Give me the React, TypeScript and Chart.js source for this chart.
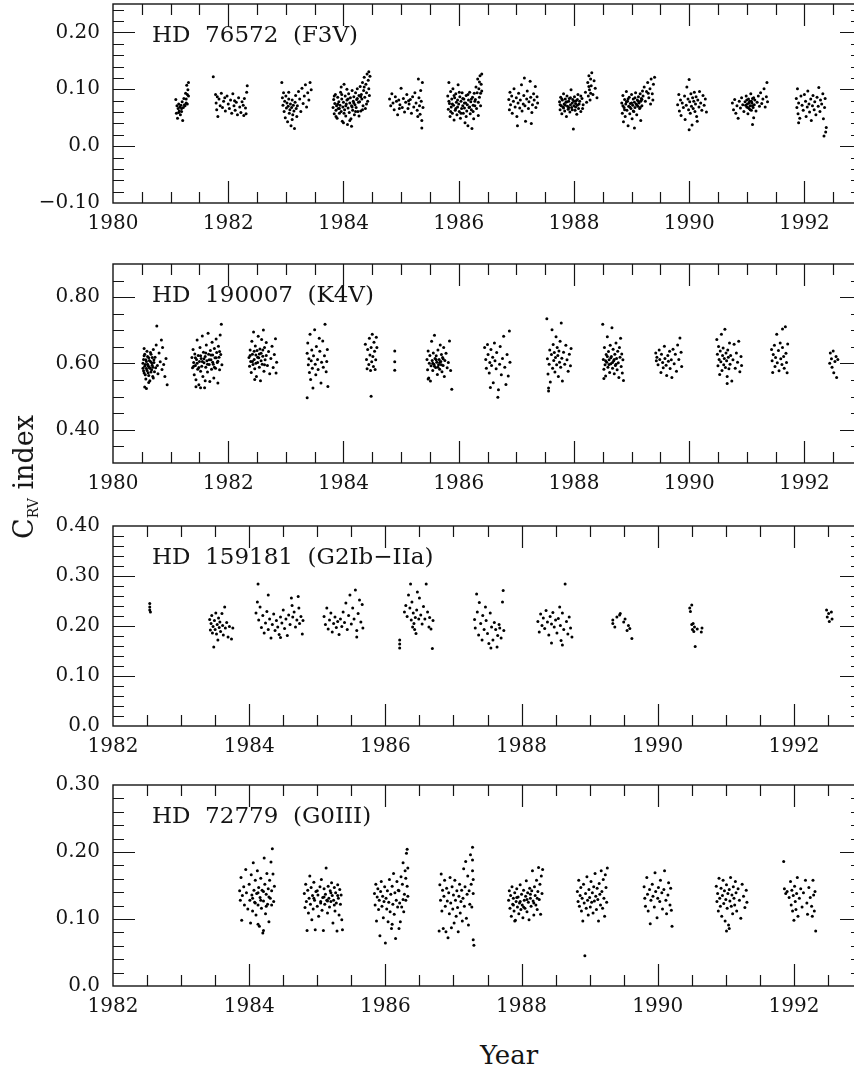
import React, { useEffect, useRef } from "react";
import { Chart, registerables } from "chart.js";

Chart.register(...registerables);

// ---------------- data (year, C_RV index) ----------------
const HD76572: [number, number][] = [
  [1981.09,0.082],[1981.10,0.058],[1981.11,0.071],[1981.12,0.049],[1981.13,0.066],[1981.14,0.074],[1981.15,0.062],[1981.16,0.069],[1981.17,0.055],[1981.18,0.072],[1981.19,0.061],[1981.20,0.078],[1981.21,0.045],[1981.22,0.068],[1981.23,0.084],[1981.24,0.073],[1981.25,0.071],[1981.26,0.093],[1981.27,0.083],[1981.28,0.107],[1981.29,0.074],[1981.30,0.099],[1981.31,0.088],[1981.31,0.112],[1981.29,0.091],[1981.27,0.076],[1981.19,0.066],[1981.14,0.059],
  [1981.74,0.122],[1981.78,0.091],[1981.79,0.076],[1981.80,0.064],[1981.81,0.087],[1981.82,0.052],[1981.84,0.083],[1981.86,0.071],[1981.88,0.093],[1981.90,0.068],[1981.92,0.079],[1981.95,0.062],[1981.98,0.088],[1982.00,0.074],[1982.02,0.066],[1982.04,0.081],[1982.06,0.058],[1982.08,0.092],[1982.10,0.071],[1982.12,0.063],[1982.14,0.077],[1982.16,0.055],[1982.18,0.085],[1982.20,0.069],[1982.22,0.059],[1982.24,0.078],[1982.26,0.072],[1982.28,0.084],[1982.30,0.067],[1982.32,0.095],[1982.33,0.106],[1982.31,0.057],[1982.27,0.054],[1981.94,0.085],[1982.11,0.080],
  [1982.93,0.112],[1982.94,0.085],[1982.95,0.072],[1982.96,0.094],[1982.97,0.061],[1982.98,0.079],[1982.99,0.050],[1983.00,0.088],[1983.01,0.067],[1983.02,0.076],[1983.03,0.043],[1983.04,0.070],[1983.05,0.083],[1983.06,0.058],[1983.07,0.064],[1983.08,0.074],[1983.09,0.036],[1983.10,0.068],[1983.11,0.081],[1983.12,0.055],[1983.13,0.072],[1983.14,0.062],[1983.15,0.031],[1983.16,0.077],[1983.17,0.089],[1983.18,0.066],[1983.19,0.052],[1983.20,0.071],[1983.22,0.096],[1983.24,0.083],[1983.26,0.061],[1983.28,0.102],[1983.30,0.075],[1983.32,0.088],[1983.34,0.108],[1983.36,0.069],[1983.38,0.094],[1983.40,0.081],[1983.42,0.112],[1983.44,0.099],[1983.05,0.095],[1983.11,0.047],
  [1983.82,0.068],[1983.83,0.082],[1983.84,0.057],[1983.85,0.075],[1983.86,0.091],[1983.87,0.063],[1983.88,0.071],[1983.89,0.049],[1983.90,0.086],[1983.91,0.066],[1983.92,0.078],[1983.93,0.058],[1983.94,0.072],[1983.95,0.095],[1983.96,0.061],[1983.97,0.083],[1983.98,0.044],[1983.99,0.069],[1984.00,0.077],[1984.01,0.109],[1984.02,0.064],[1984.03,0.088],[1984.04,0.053],[1984.05,0.074],[1984.06,0.081],[1984.07,0.038],[1984.08,0.067],[1984.09,0.092],[1984.10,0.059],[1984.11,0.076],[1984.12,0.085],[1984.13,0.048],[1984.14,0.071],[1984.15,0.098],[1984.16,0.063],[1984.17,0.079],[1984.18,0.087],[1984.19,0.055],[1984.20,0.073],[1984.21,0.094],[1984.22,0.068],[1984.23,0.082],[1984.24,0.101],[1984.25,0.061],[1984.26,0.077],[1984.27,0.089],
  [1984.28,0.078],[1984.29,0.105],[1984.30,0.062],[1984.31,0.091],[1984.32,0.083],[1984.33,0.112],[1984.34,0.071],[1984.35,0.098],[1984.36,0.121],[1984.37,0.086],[1984.38,0.066],[1984.39,0.109],[1984.40,0.094],[1984.41,0.127],[1984.42,0.079],[1984.43,0.116],[1984.44,0.101],[1984.45,0.089],[1984.46,0.123],[1984.44,0.131],[1984.40,0.074],[1984.36,0.104],
  [1984.00,0.041],[1984.14,0.035],[1984.06,0.100],[1983.96,0.104],
  [1983.84,0.088],[1983.87,0.052],[1983.90,0.074],[1983.93,0.066],[1983.97,0.091],[1984.01,0.058],[1984.04,0.071],[1984.08,0.083],[1984.11,0.045],[1984.15,0.069],[1984.18,0.076],[1984.21,0.061],[1984.24,0.084],[1984.27,0.053],[1984.30,0.087],[1984.33,0.064],
  [1984.80,0.083],[1984.82,0.071],[1984.84,0.092],[1984.86,0.076],[1984.88,0.064],[1984.90,0.087],[1984.92,0.079],[1984.94,0.055],[1984.96,0.081],[1984.98,0.073],[1985.00,0.102],[1985.02,0.068],[1985.04,0.084],[1985.06,0.060],[1985.08,0.077],[1985.10,0.091],[1985.12,0.066],[1985.14,0.074],[1985.16,0.082],[1985.18,0.058],[1985.20,0.087],[1985.22,0.069],[1985.24,0.094],[1985.26,0.076],[1985.28,0.063],[1985.30,0.118],[1985.31,0.085],[1985.32,0.071],[1985.33,0.056],[1985.34,0.098],[1985.35,0.079],[1985.36,0.045],[1985.37,0.112],[1985.38,0.068],[1985.36,0.032],[1985.29,0.052],[1985.13,0.080],[1984.97,0.066],
  [1985.81,0.088],[1985.82,0.065],[1985.83,0.112],[1985.84,0.075],[1985.85,0.052],[1985.86,0.096],[1985.87,0.069],[1985.88,0.083],[1985.89,0.058],[1985.90,0.101],[1985.91,0.072],[1985.92,0.046],[1985.93,0.085],[1985.94,0.063],[1985.95,0.092],[1985.96,0.077],[1985.97,0.055],[1985.98,0.069],[1985.99,0.108],[1986.00,0.074],[1986.01,0.061],[1986.02,0.087],[1986.03,0.049],[1986.04,0.079],[1986.05,0.066],[1986.06,0.094],[1986.07,0.071],[1986.08,0.058],[1986.09,0.083],[1986.10,0.067],[1986.11,0.041],[1986.12,0.076],[1986.13,0.089],[1986.14,0.062],[1986.15,0.073],[1986.16,0.036],[1986.17,0.081],[1986.18,0.068],[1986.19,0.095],[1986.20,0.057],[1986.21,0.078],[1986.22,0.064],[1986.23,0.031],[1986.24,0.086],[1986.25,0.072],[1986.26,0.048],[1986.27,0.093],[1986.28,0.079],
  [1986.29,0.082],[1986.30,0.104],[1986.31,0.066],[1986.32,0.094],[1986.33,0.118],[1986.34,0.077],[1986.35,0.101],[1986.36,0.086],[1986.37,0.124],[1986.38,0.093],[1986.39,0.109],[1986.40,0.127],[1986.38,0.071],[1986.34,0.054],[1986.36,0.113],[1986.40,0.097],
  [1985.83,0.079],[1985.86,0.061],[1985.89,0.074],[1985.92,0.089],[1985.95,0.066],[1985.98,0.081],[1986.01,0.095],[1986.04,0.058],[1986.07,0.084],[1986.10,0.076],[1986.13,0.052],[1986.16,0.091],[1986.19,0.069],[1986.22,0.083],[1986.25,0.061],[1986.28,0.071],
  [1986.87,0.082],[1986.88,0.064],[1986.89,0.095],[1986.90,0.073],[1986.92,0.088],[1986.93,0.058],[1986.95,0.079],[1986.96,0.101],[1986.98,0.069],[1987.00,0.085],[1987.01,0.052],[1987.03,0.076],[1987.04,0.093],[1987.06,0.067],[1987.07,0.081],[1987.09,0.108],[1987.10,0.062],[1987.12,0.074],[1987.13,0.089],[1987.15,0.071],[1987.16,0.044],[1987.18,0.083],[1987.19,0.097],[1987.21,0.066],[1987.22,0.078],[1987.24,0.114],[1987.25,0.086],[1987.27,0.059],[1987.28,0.073],[1987.30,0.092],[1987.31,0.081],[1987.33,0.105],[1987.34,0.068],[1987.36,0.087],[1987.37,0.076],[1987.02,0.036],[1987.14,0.120],[1987.26,0.040],
  [1987.75,0.078],[1987.76,0.064],[1987.77,0.086],[1987.78,0.071],[1987.79,0.057],[1987.80,0.081],[1987.81,0.069],[1987.82,0.092],[1987.83,0.074],[1987.84,0.062],[1987.85,0.083],[1987.86,0.077],[1987.87,0.052],[1987.88,0.088],[1987.89,0.070],[1987.90,0.065],[1987.91,0.079],[1987.92,0.084],[1987.93,0.060],[1987.94,0.073],[1987.95,0.099],[1987.96,0.068],[1987.97,0.076],[1987.98,0.082],[1987.99,0.030],[1988.00,0.071],[1988.01,0.087],[1988.02,0.063],[1988.03,0.075],[1988.04,0.080],[1988.05,0.056],[1988.06,0.072],[1988.07,0.091],[1988.08,0.066],[1988.10,0.079],[1988.12,0.061],[1988.14,0.084],[1988.16,0.073],
  [1988.20,0.095],[1988.22,0.077],[1988.24,0.112],[1988.25,0.088],[1988.26,0.124],[1988.27,0.099],[1988.28,0.081],[1988.29,0.118],[1988.30,0.106],[1988.31,0.129],[1988.33,0.091],[1988.35,0.115],[1988.37,0.102],[1988.40,0.085],[1988.29,0.093],[1988.26,0.105],
  [1987.76,0.073],[1987.79,0.083],[1987.82,0.067],[1987.85,0.072],[1987.88,0.078],[1987.91,0.068],[1987.94,0.085],[1987.97,0.064],[1988.00,0.079],[1988.03,0.069],[1988.06,0.082],[1988.09,0.074],[1988.12,0.088],[1988.15,0.066],
  [1988.83,0.076],[1988.84,0.058],[1988.85,0.089],[1988.86,0.043],[1988.87,0.068],[1988.88,0.082],[1988.89,0.052],[1988.90,0.074],[1988.91,0.096],[1988.92,0.063],[1988.93,0.079],[1988.94,0.036],[1988.95,0.070],[1988.96,0.086],[1988.97,0.057],[1988.98,0.075],[1988.99,0.066],[1989.00,0.091],[1989.01,0.048],[1989.02,0.072],[1989.03,0.083],[1989.04,0.061],[1989.05,0.077],[1989.06,0.068],[1989.07,0.094],[1989.08,0.074],[1989.09,0.055],[1989.10,0.081],[1989.11,0.070],[1989.12,0.087],[1989.13,0.076],[1989.14,0.066],[1989.15,0.092],[1989.16,0.079],[1989.17,0.084],[1989.18,0.071],[1989.19,0.097],
  [1989.20,0.088],[1989.22,0.104],[1989.24,0.079],[1989.26,0.096],[1989.28,0.112],[1989.30,0.085],[1989.32,0.101],[1989.34,0.118],[1989.36,0.092],[1989.38,0.109],[1989.40,0.121],[1989.37,0.081],[1989.33,0.074],[1989.29,0.093],[1989.05,0.032],[1989.16,0.045],
  [1988.85,0.071],[1988.88,0.064],[1988.91,0.078],[1988.94,0.083],[1988.97,0.069],[1989.00,0.076],[1989.03,0.062],[1989.06,0.085],[1989.09,0.073],[1989.12,0.079],[1989.15,0.068],[1989.18,0.082],
  [1989.80,0.073],[1989.82,0.091],[1989.83,0.062],[1989.85,0.081],[1989.86,0.054],[1989.88,0.076],[1989.90,0.068],[1989.92,0.088],[1989.93,0.047],[1989.95,0.072],[1989.96,0.104],[1989.98,0.083],[1989.99,0.064],[1990.00,0.117],[1990.01,0.078],[1990.02,0.058],[1990.03,0.092],[1990.04,0.070],[1990.05,0.037],[1990.06,0.085],[1990.07,0.066],[1990.08,0.079],[1990.09,0.095],[1990.10,0.061],[1990.11,0.074],[1990.12,0.087],[1990.13,0.052],[1990.15,0.081],[1990.17,0.069],[1990.18,0.096],[1990.20,0.076],[1990.22,0.063],[1990.24,0.089],[1990.26,0.072],[1990.28,0.083],[1990.30,0.060],[1990.00,0.029],[1990.14,0.044],
  [1990.75,0.076],[1990.77,0.064],[1990.79,0.082],[1990.81,0.058],[1990.83,0.071],[1990.85,0.049],[1990.87,0.079],[1990.89,0.067],[1990.91,0.085],[1990.93,0.073],[1990.95,0.061],[1990.97,0.078],[1990.99,0.088],[1991.00,0.069],[1991.01,0.074],[1991.02,0.057],[1991.03,0.083],[1991.04,0.066],[1991.05,0.079],[1991.06,0.071],[1991.07,0.092],[1991.08,0.063],[1991.09,0.076],[1991.10,0.084],[1991.11,0.068],[1991.12,0.050],[1991.13,0.073],[1991.14,0.081],[1991.16,0.062],[1991.18,0.077],[1991.20,0.088],[1991.22,0.070],[1991.24,0.094],[1991.26,0.075],[1991.28,0.083],[1991.30,0.101],[1991.32,0.069],[1991.34,0.087],[1991.35,0.112],[1991.36,0.078],[1991.10,0.038],
  [1990.98,0.072],[1991.00,0.081],[1991.02,0.068],[1991.04,0.076],[1991.06,0.064],[1991.08,0.079],[1991.10,0.071],[1991.12,0.085],
  [1991.86,0.084],[1991.87,0.068],[1991.88,0.101],[1991.89,0.057],[1991.90,0.076],[1991.92,0.049],[1991.94,0.088],[1991.96,0.072],[1991.98,0.063],[1992.00,0.091],[1992.02,0.079],[1992.03,0.052],[1992.05,0.069],[1992.06,0.097],[1992.08,0.074],[1992.09,0.060],[1992.11,0.083],[1992.12,0.045],[1992.14,0.071],[1992.15,0.089],[1992.17,0.064],[1992.18,0.078],[1992.20,0.055],[1992.22,0.086],[1992.24,0.070],[1992.25,0.103],[1992.27,0.061],[1992.28,0.081],[1992.30,0.074],[1992.32,0.092],[1992.33,0.048],[1992.35,0.068],[1992.36,0.084],[1992.37,0.025],[1992.38,0.033],[1992.34,0.018],[1991.90,0.041],
];

const HD190007: [number, number][] = [
  [1980.52,0.601],[1980.53,0.578],[1980.54,0.623],[1980.55,0.592],[1980.56,0.566],[1980.57,0.611],[1980.58,0.585],[1980.59,0.637],[1980.60,0.598],[1980.61,0.572],[1980.62,0.617],[1980.63,0.589],[1980.64,0.548],[1980.65,0.606],[1980.66,0.628],[1980.67,0.581],[1980.68,0.595],[1980.69,0.561],[1980.70,0.642],[1980.71,0.603],[1980.72,0.575],[1980.73,0.619],[1980.74,0.587],[1980.75,0.656],[1980.76,0.713],[1980.77,0.594],[1980.78,0.569],[1980.80,0.632],[1980.82,0.605],[1980.84,0.671],[1980.85,0.582],[1980.86,0.648],[1980.88,0.597],[1980.90,0.561],[1980.92,0.615],[1980.94,0.536],[1980.55,0.529],[1980.58,0.525],[1980.62,0.543],[1980.54,0.645],
  [1980.52,0.586],[1980.53,0.612],[1980.54,0.571],[1980.55,0.628],[1980.56,0.597],[1980.57,0.553],[1980.58,0.606],[1980.59,0.579],[1980.60,0.621],[1980.61,0.593],[1980.62,0.564],[1980.63,0.609],[1980.64,0.586],[1980.65,0.633],[1980.66,0.574],[1980.67,0.602],[1980.68,0.618],[1980.69,0.589],[1980.70,0.556],[1980.71,0.611],
  [1981.37,0.618],[1981.38,0.587],[1981.39,0.642],[1981.40,0.603],[1981.41,0.566],[1981.42,0.629],[1981.43,0.594],[1981.44,0.551],[1981.45,0.612],[1981.46,0.671],[1981.47,0.583],[1981.48,0.624],[1981.49,0.536],[1981.50,0.606],[1981.51,0.648],[1981.52,0.577],[1981.53,0.615],[1981.54,0.592],[1981.55,0.683],[1981.56,0.561],[1981.57,0.634],[1981.58,0.602],[1981.59,0.527],[1981.60,0.621],[1981.61,0.589],[1981.62,0.656],[1981.63,0.608],[1981.64,0.574],[1981.65,0.691],[1981.66,0.628],[1981.67,0.597],[1981.68,0.546],[1981.69,0.639],[1981.70,0.611],[1981.71,0.583],[1981.72,0.664],[1981.73,0.626],[1981.74,0.598],[1981.75,0.556],[1981.76,0.645],[1981.77,0.617],[1981.78,0.586],[1981.79,0.674],[1981.80,0.633],[1981.81,0.603],[1981.82,0.541],[1981.83,0.652],[1981.84,0.619],[1981.85,0.581],[1981.86,0.686],[1981.87,0.627],[1981.88,0.718],[1981.89,0.596],[1981.44,0.530],[1981.52,0.527],[1981.60,0.548],
  [1981.40,0.592],[1981.43,0.617],[1981.46,0.601],[1981.49,0.588],[1981.52,0.623],[1981.55,0.606],[1981.58,0.614],[1981.61,0.632],[1981.64,0.598],[1981.67,0.611],[1981.70,0.626],[1981.73,0.604],[1981.76,0.589],[1981.79,0.617],[1981.82,0.607],[1981.85,0.636],
  [1982.36,0.618],[1982.37,0.592],[1982.38,0.641],[1982.39,0.606],[1982.40,0.573],[1982.41,0.667],[1982.42,0.628],[1982.43,0.597],[1982.44,0.695],[1982.45,0.612],[1982.46,0.584],[1982.47,0.653],[1982.48,0.626],[1982.49,0.561],[1982.50,0.639],[1982.51,0.603],[1982.52,0.682],[1982.53,0.617],[1982.54,0.589],[1982.55,0.644],[1982.56,0.548],[1982.57,0.631],[1982.58,0.672],[1982.59,0.598],[1982.60,0.622],[1982.61,0.701],[1982.62,0.577],[1982.63,0.648],[1982.64,0.611],[1982.66,0.663],[1982.68,0.594],[1982.70,0.636],[1982.72,0.569],[1982.74,0.615],[1982.76,0.652],[1982.78,0.588],[1982.80,0.627],[1982.82,0.675],[1982.84,0.604],[1982.83,0.571],[1982.46,0.552],
  [1982.38,0.624],[1982.42,0.606],[1982.45,0.637],[1982.48,0.601],[1982.51,0.619],[1982.54,0.629],[1982.57,0.608],[1982.60,0.641],[1982.63,0.596],[1982.66,0.624],
  [1983.37,0.631],[1983.38,0.662],[1983.39,0.596],[1983.40,0.614],[1983.41,0.573],[1983.42,0.688],[1983.43,0.552],[1983.44,0.608],[1983.45,0.641],[1983.46,0.586],[1983.47,0.526],[1983.48,0.623],[1983.50,0.702],[1983.51,0.598],[1983.52,0.566],[1983.53,0.651],[1983.55,0.612],[1983.56,0.582],[1983.58,0.676],[1983.59,0.637],[1983.61,0.541],[1983.62,0.604],[1983.64,0.668],[1983.65,0.589],[1983.67,0.623],[1983.68,0.718],[1983.70,0.575],[1983.72,0.642],[1983.73,0.531],[1983.37,0.497],[1983.71,0.606],
  [1984.38,0.658],[1984.40,0.612],[1984.41,0.584],[1984.42,0.642],[1984.44,0.597],[1984.45,0.676],[1984.46,0.626],[1984.47,0.579],[1984.48,0.648],[1984.49,0.605],[1984.50,0.688],[1984.51,0.621],[1984.52,0.591],[1984.53,0.664],[1984.54,0.637],[1984.55,0.582],[1984.56,0.611],[1984.57,0.679],[1984.58,0.648],[1984.48,0.501],
  [1984.89,0.638],[1984.89,0.605],[1984.89,0.580],
  [1985.45,0.612],[1985.46,0.581],[1985.47,0.638],[1985.48,0.556],[1985.49,0.601],[1985.50,0.624],[1985.51,0.547],[1985.52,0.593],[1985.53,0.667],[1985.54,0.609],[1985.55,0.579],[1985.56,0.632],[1985.57,0.598],[1985.58,0.685],[1985.59,0.615],[1985.60,0.588],[1985.61,0.623],[1985.62,0.604],[1985.63,0.567],[1985.64,0.641],[1985.65,0.596],[1985.66,0.612],[1985.67,0.583],[1985.68,0.656],[1985.69,0.606],[1985.70,0.627],[1985.71,0.575],[1985.72,0.618],[1985.73,0.594],[1985.74,0.648],[1985.75,0.561],[1985.76,0.609],[1985.78,0.631],[1985.80,0.587],[1985.82,0.603],[1985.84,0.668],[1985.86,0.579],[1985.88,0.522],[1985.47,0.553],
  [1985.55,0.601],[1985.58,0.592],[1985.61,0.611],[1985.64,0.589],[1985.67,0.603],[1985.70,0.596],[1985.73,0.614],
  [1986.45,0.648],[1986.47,0.612],[1986.48,0.586],[1986.50,0.657],[1986.51,0.627],[1986.53,0.571],[1986.54,0.603],[1986.56,0.642],[1986.57,0.594],[1986.59,0.619],[1986.60,0.542],[1986.62,0.662],[1986.63,0.608],[1986.65,0.584],[1986.66,0.633],[1986.68,0.498],[1986.69,0.521],[1986.71,0.598],[1986.72,0.651],[1986.74,0.566],[1986.76,0.615],[1986.78,0.682],[1986.80,0.589],[1986.82,0.537],[1986.84,0.627],[1986.86,0.562],[1986.88,0.698],[1986.89,0.604],[1986.55,0.528],
  [1987.53,0.735],[1987.54,0.614],[1987.55,0.568],[1987.56,0.526],[1987.57,0.598],[1987.58,0.641],[1987.59,0.544],[1987.61,0.627],[1987.62,0.702],[1987.63,0.586],[1987.64,0.657],[1987.65,0.609],[1987.66,0.633],[1987.67,0.574],[1987.68,0.618],[1987.69,0.681],[1987.70,0.596],[1987.71,0.648],[1987.72,0.624],[1987.73,0.561],[1987.74,0.638],[1987.75,0.604],[1987.76,0.667],[1987.77,0.589],[1987.78,0.722],[1987.79,0.616],[1987.80,0.547],[1987.82,0.634],[1987.84,0.598],[1987.86,0.655],[1987.88,0.611],[1987.90,0.577],[1987.92,0.628],[1987.94,0.593],[1987.95,0.645],[1987.56,0.517],
  [1988.50,0.718],[1988.51,0.612],[1988.52,0.583],[1988.53,0.648],[1988.54,0.596],[1988.55,0.562],[1988.56,0.627],[1988.57,0.604],[1988.58,0.681],[1988.59,0.589],[1988.60,0.636],[1988.61,0.611],[1988.62,0.573],[1988.63,0.655],[1988.64,0.599],[1988.65,0.621],[1988.66,0.708],[1988.67,0.586],[1988.68,0.643],[1988.69,0.608],[1988.70,0.569],[1988.71,0.628],[1988.72,0.594],[1988.73,0.662],[1988.74,0.615],[1988.75,0.581],[1988.76,0.637],[1988.77,0.602],[1988.78,0.558],[1988.79,0.648],[1988.80,0.619],[1988.81,0.676],[1988.82,0.591],[1988.83,0.629],[1988.84,0.571],[1988.85,0.611],[1988.86,0.549],[1988.52,0.555],
  [1988.55,0.608],[1988.58,0.621],[1988.61,0.597],[1988.64,0.617],[1988.67,0.603],[1988.70,0.612],[1988.73,0.598],
  [1989.42,0.632],[1989.43,0.608],[1989.44,0.619],[1989.46,0.596],[1989.48,0.641],[1989.49,0.612],[1989.51,0.573],[1989.52,0.628],[1989.54,0.603],[1989.55,0.587],[1989.57,0.652],[1989.58,0.615],[1989.60,0.595],[1989.61,0.564],[1989.63,0.624],[1989.64,0.607],[1989.66,0.637],[1989.67,0.585],[1989.69,0.611],[1989.70,0.558],[1989.72,0.643],[1989.74,0.599],[1989.76,0.628],[1989.78,0.577],[1989.80,0.656],[1989.82,0.612],[1989.84,0.677],[1989.86,0.634],[1989.87,0.591],
  [1990.48,0.672],[1990.49,0.628],[1990.50,0.593],[1990.51,0.651],[1990.52,0.612],[1990.53,0.567],[1990.54,0.638],[1990.55,0.605],[1990.56,0.688],[1990.57,0.579],[1990.58,0.624],[1990.59,0.647],[1990.60,0.596],[1990.61,0.615],[1990.62,0.703],[1990.63,0.588],[1990.64,0.632],[1990.65,0.608],[1990.66,0.561],[1990.67,0.641],[1990.68,0.619],[1990.69,0.584],[1990.70,0.662],[1990.71,0.598],[1990.72,0.624],[1990.74,0.547],[1990.76,0.611],[1990.78,0.658],[1990.80,0.586],[1990.82,0.632],[1990.84,0.604],[1990.86,0.667],[1990.88,0.575],[1990.90,0.621],[1990.91,0.594],[1990.66,0.540],
  [1991.43,0.642],[1991.44,0.608],[1991.45,0.573],[1991.46,0.627],[1991.48,0.655],[1991.49,0.591],[1991.50,0.618],[1991.52,0.688],[1991.53,0.602],[1991.55,0.639],[1991.56,0.578],[1991.58,0.662],[1991.59,0.614],[1991.61,0.597],[1991.62,0.648],[1991.64,0.621],[1991.65,0.586],[1991.67,0.711],[1991.68,0.631],[1991.69,0.603],[1991.70,0.572],[1991.71,0.659],[1991.62,0.704],
  [1992.44,0.601],[1992.45,0.632],[1992.47,0.614],[1992.48,0.589],[1992.50,0.638],[1992.51,0.572],[1992.53,0.606],[1992.55,0.621],[1992.56,0.558],[1992.58,0.612],
];

const HD159181: [number, number][] = [
  [1982.54,0.245],[1982.54,0.238],[1982.54,0.232],[1982.55,0.228],
  [1983.42,0.213],[1983.43,0.192],[1983.44,0.205],[1983.45,0.221],[1983.46,0.186],[1983.47,0.199],[1983.48,0.158],[1983.49,0.211],[1983.50,0.193],[1983.51,0.226],[1983.52,0.184],[1983.53,0.203],[1983.54,0.172],[1983.55,0.216],[1983.56,0.197],[1983.57,0.208],[1983.58,0.189],[1983.60,0.225],[1983.61,0.201],[1983.62,0.182],[1983.64,0.238],[1983.65,0.196],[1983.67,0.207],[1983.69,0.178],[1983.71,0.199],[1983.74,0.174],[1983.76,0.196],
  [1984.10,0.226],[1984.12,0.248],[1984.13,0.284],[1984.14,0.212],[1984.16,0.238],[1984.18,0.197],[1984.20,0.221],[1984.22,0.186],[1984.24,0.206],[1984.26,0.229],[1984.28,0.193],[1984.30,0.214],[1984.32,0.176],[1984.34,0.203],[1984.36,0.224],[1984.38,0.191],[1984.40,0.211],[1984.42,0.198],[1984.44,0.183],[1984.46,0.218],[1984.48,0.206],[1984.50,0.232],[1984.52,0.195],[1984.54,0.214],[1984.56,0.181],[1984.58,0.222],[1984.60,0.203],[1984.62,0.256],[1984.63,0.241],[1984.64,0.218],[1984.66,0.228],[1984.68,0.198],[1984.70,0.212],[1984.72,0.259],[1984.73,0.236],[1984.74,0.205],[1984.76,0.219],[1984.78,0.184],[1984.79,0.211],[1984.46,0.177],[1984.28,0.262],
  [1985.10,0.219],[1985.12,0.203],[1985.14,0.236],[1985.16,0.194],[1985.18,0.212],[1985.20,0.226],[1985.22,0.188],[1985.24,0.205],[1985.26,0.218],[1985.28,0.197],[1985.30,0.209],[1985.32,0.183],[1985.34,0.214],[1985.36,0.199],[1985.38,0.228],[1985.40,0.207],[1985.42,0.246],[1985.44,0.193],[1985.46,0.221],[1985.48,0.262],[1985.50,0.204],[1985.52,0.236],[1985.54,0.214],[1985.56,0.272],[1985.58,0.191],[1985.60,0.225],[1985.62,0.252],[1985.64,0.208],[1985.66,0.243],[1985.67,0.196],[1985.58,0.178],
  [1986.21,0.172],[1986.21,0.164],[1986.21,0.156],[1986.28,0.228],[1986.30,0.241],[1986.32,0.219],[1986.34,0.262],[1986.36,0.236],[1986.37,0.284],[1986.38,0.212],[1986.39,0.248],[1986.40,0.198],[1986.41,0.226],[1986.42,0.205],[1986.43,0.193],[1986.44,0.217],[1986.45,0.185],[1986.46,0.232],[1986.47,0.268],[1986.49,0.214],[1986.50,0.256],[1986.52,0.222],[1986.54,0.204],[1986.56,0.239],[1986.58,0.214],[1986.60,0.284],[1986.62,0.228],[1986.64,0.198],[1986.65,0.217],[1986.67,0.194],[1986.69,0.155],[1986.70,0.211],
  [1987.31,0.213],[1987.32,0.196],[1987.34,0.264],[1987.35,0.228],[1987.37,0.182],[1987.38,0.247],[1987.40,0.205],[1987.42,0.172],[1987.43,0.221],[1987.45,0.193],[1987.47,0.238],[1987.48,0.211],[1987.50,0.185],[1987.52,0.165],[1987.54,0.226],[1987.56,0.198],[1987.58,0.172],[1987.60,0.207],[1987.62,0.193],[1987.64,0.158],[1987.65,0.181],[1987.67,0.203],[1987.68,0.196],[1987.70,0.176],[1987.72,0.248],[1987.73,0.271],[1987.74,0.191],[1987.55,0.156],
  [1988.24,0.209],[1988.26,0.188],[1988.28,0.224],[1988.30,0.201],[1988.32,0.216],[1988.34,0.195],[1988.36,0.231],[1988.38,0.208],[1988.40,0.182],[1988.42,0.219],[1988.44,0.204],[1988.46,0.227],[1988.48,0.198],[1988.50,0.212],[1988.52,0.186],[1988.54,0.215],[1988.56,0.238],[1988.57,0.201],[1988.58,0.171],[1988.60,0.226],[1988.62,0.193],[1988.64,0.284],[1988.66,0.209],[1988.68,0.184],[1988.70,0.218],[1988.72,0.196],[1988.74,0.178],[1988.60,0.162],[1988.44,0.166],
  [1989.34,0.212],[1989.34,0.205],[1989.37,0.198],[1989.40,0.218],[1989.44,0.222],[1989.45,0.225],[1989.50,0.208],[1989.52,0.214],[1989.55,0.191],[1989.57,0.201],[1989.59,0.195],[1989.62,0.175],
  [1990.47,0.236],[1990.48,0.229],[1990.50,0.242],[1990.50,0.203],[1990.51,0.193],[1990.52,0.205],[1990.53,0.189],[1990.54,0.198],[1990.55,0.159],[1990.58,0.194],[1990.64,0.188],[1990.65,0.196],
  [1992.48,0.232],[1992.49,0.218],[1992.51,0.225],[1992.52,0.209],[1992.55,0.228],[1992.56,0.214],
];

const HD72779: [number, number][] = [
  [1983.86,0.142],[1983.87,0.128],[1983.88,0.162],[1983.89,0.098],[1983.90,0.135],[1983.92,0.148],[1983.93,0.121],[1983.95,0.174],[1983.96,0.139],[1983.98,0.115],[1984.00,0.152],[1984.01,0.128],[1984.02,0.094],[1984.03,0.166],[1984.04,0.136],[1984.05,0.112],[1984.06,0.184],[1984.07,0.143],[1984.08,0.125],[1984.09,0.158],[1984.10,0.106],[1984.11,0.138],[1984.12,0.172],[1984.13,0.121],[1984.14,0.147],[1984.15,0.089],[1984.16,0.132],[1984.17,0.161],[1984.18,0.116],[1984.19,0.143],[1984.20,0.079],[1984.21,0.127],[1984.22,0.191],[1984.23,0.152],[1984.24,0.108],[1984.25,0.137],[1984.26,0.168],[1984.27,0.122],[1984.28,0.145],[1984.29,0.096],[1984.30,0.158],[1984.31,0.131],[1984.32,0.185],[1984.33,0.142],[1984.34,0.205],[1984.35,0.167],[1984.36,0.126],[1984.37,0.149],[1984.21,0.083],[1984.13,0.092],
  [1984.05,0.131],[1984.09,0.124],[1984.13,0.139],[1984.17,0.128],[1984.21,0.141],[1984.25,0.119],[1984.29,0.133],[1984.33,0.121],
  [1984.81,0.138],[1984.82,0.117],[1984.83,0.152],[1984.84,0.126],[1984.85,0.083],[1984.86,0.143],[1984.87,0.109],[1984.88,0.131],[1984.89,0.164],[1984.90,0.122],[1984.91,0.147],[1984.92,0.099],[1984.93,0.135],[1984.94,0.115],[1984.95,0.155],[1984.96,0.128],[1984.97,0.084],[1984.98,0.141],[1985.00,0.119],[1985.01,0.136],[1985.02,0.104],[1985.04,0.148],[1985.05,0.126],[1985.06,0.159],[1985.07,0.113],[1985.08,0.132],[1985.09,0.083],[1985.10,0.145],[1985.11,0.122],[1985.12,0.137],[1985.13,0.176],[1985.14,0.128],[1985.15,0.109],[1985.16,0.149],[1985.17,0.131],[1985.18,0.118],[1985.19,0.142],[1985.20,0.126],[1985.21,0.154],[1985.22,0.135],[1985.23,0.094],[1985.24,0.128],[1985.25,0.147],[1985.26,0.112],[1985.27,0.139],[1985.28,0.124],[1985.29,0.082],[1985.30,0.151],[1985.31,0.131],[1985.32,0.106],[1985.33,0.144],[1985.34,0.122],[1985.35,0.136],[1985.36,0.099],[1985.37,0.084],
  [1984.95,0.131],[1985.00,0.142],[1985.05,0.124],[1985.10,0.133],[1985.15,0.127],[1985.20,0.139],[1985.25,0.121],[1985.30,0.135],
  [1985.84,0.138],[1985.85,0.121],[1985.86,0.152],[1985.87,0.097],[1985.88,0.133],[1985.89,0.145],[1985.90,0.114],[1985.91,0.128],[1985.92,0.075],[1985.93,0.141],[1985.94,0.156],[1985.95,0.119],[1985.96,0.134],[1985.97,0.102],[1985.98,0.126],[1985.99,0.148],[1986.00,0.064],[1986.01,0.131],[1986.02,0.115],[1986.03,0.142],[1986.04,0.096],[1986.05,0.125],[1986.06,0.159],[1986.07,0.111],[1986.08,0.137],[1986.09,0.086],[1986.10,0.149],[1986.11,0.122],[1986.12,0.168],[1986.13,0.107],[1986.14,0.139],[1986.15,0.071],[1986.16,0.128],[1986.17,0.156],[1986.18,0.118],[1986.19,0.143],
  [1986.20,0.142],[1986.21,0.124],[1986.22,0.096],[1986.23,0.163],[1986.24,0.118],[1986.25,0.152],[1986.26,0.184],[1986.27,0.111],[1986.28,0.137],[1986.29,0.172],[1986.30,0.128],[1986.31,0.198],[1986.32,0.149],[1986.33,0.176],[1986.32,0.204],[1986.30,0.161],[1986.33,0.134],[1986.26,0.129],[1986.20,0.086],[1986.10,0.092],
  [1986.79,0.082],[1986.80,0.151],[1986.81,0.128],[1986.82,0.167],[1986.83,0.112],[1986.84,0.143],[1986.85,0.086],[1986.86,0.134],[1986.87,0.158],[1986.88,0.119],[1986.89,0.081],[1986.90,0.146],[1986.91,0.127],[1986.92,0.072],[1986.93,0.139],[1986.94,0.108],[1986.95,0.162],[1986.96,0.124],[1986.97,0.087],[1986.98,0.148],[1986.99,0.115],[1987.00,0.136],[1987.01,0.094],[1987.02,0.158],[1987.03,0.128],[1987.04,0.104],[1987.05,0.142],[1987.06,0.117],[1987.07,0.081],[1987.08,0.134],[1987.09,0.152],[1987.10,0.109],[1987.11,0.126],[1987.12,0.143],[1987.13,0.097],[1987.14,0.131],[1987.15,0.175],[1987.16,0.119],[1987.17,0.148],[1987.18,0.186],[1987.19,0.101],[1987.20,0.137],[1987.21,0.164],[1987.22,0.091],[1987.23,0.142],[1987.24,0.122],[1987.25,0.196],[1987.26,0.152],[1987.27,0.118],[1987.28,0.207],[1987.29,0.138],[1987.30,0.061],[1987.29,0.069],[1987.28,0.188],[1987.28,0.172],[1987.29,0.159],
  [1987.81,0.128],[1987.82,0.142],[1987.83,0.116],[1987.84,0.135],[1987.85,0.104],[1987.86,0.148],[1987.87,0.122],[1987.88,0.131],[1987.89,0.112],[1987.90,0.139],[1987.91,0.098],[1987.92,0.126],[1987.93,0.145],[1987.94,0.118],[1987.95,0.133],[1987.96,0.108],[1987.97,0.124],[1987.98,0.151],[1987.99,0.114],[1988.00,0.137],[1988.01,0.121],[1988.02,0.102],[1988.03,0.143],[1988.04,0.128],[1988.05,0.116],[1988.06,0.134],[1988.07,0.157],[1988.08,0.111],[1988.09,0.139],[1988.10,0.125],[1988.11,0.099],[1988.12,0.146],[1988.13,0.131],[1988.14,0.119],[1988.15,0.142],[1988.16,0.172],[1988.17,0.127],[1988.18,0.106],[1988.19,0.148],[1988.20,0.135],[1988.21,0.121],[1988.22,0.158],[1988.23,0.114],[1988.24,0.141],[1988.25,0.177],[1988.26,0.129],[1988.27,0.152],[1988.28,0.107],[1988.29,0.164],[1988.30,0.138],[1988.31,0.174],[1987.90,0.097],
  [1987.88,0.121],[1987.93,0.132],[1987.98,0.126],[1988.03,0.118],[1988.08,0.129],[1988.13,0.137],[1988.18,0.124],[1988.23,0.131],
  [1988.82,0.141],[1988.83,0.126],[1988.84,0.158],[1988.85,0.119],[1988.86,0.135],[1988.87,0.147],[1988.88,0.112],[1988.89,0.131],[1988.90,0.097],[1988.91,0.152],[1988.92,0.124],[1988.93,0.045],[1988.94,0.138],[1988.95,0.116],[1988.96,0.163],[1988.97,0.128],[1988.98,0.106],[1988.99,0.144],[1989.00,0.132],[1989.01,0.118],[1989.02,0.156],[1989.03,0.125],[1989.04,0.139],[1989.05,0.109],[1989.06,0.148],[1989.07,0.127],[1989.08,0.168],[1989.09,0.134],[1989.10,0.114],[1989.11,0.146],[1989.12,0.129],[1989.13,0.097],[1989.14,0.153],[1989.15,0.137],[1989.16,0.121],[1989.17,0.172],[1989.18,0.141],[1989.19,0.116],[1989.20,0.159],[1989.21,0.131],[1989.22,0.104],[1989.23,0.166],[1989.24,0.147],[1989.25,0.125],[1989.26,0.176],
  [1989.80,0.148],[1989.81,0.131],[1989.82,0.119],[1989.84,0.162],[1989.85,0.137],[1989.86,0.112],[1989.88,0.144],[1989.89,0.093],[1989.90,0.128],[1989.92,0.152],[1989.93,0.134],[1989.95,0.118],[1989.96,0.169],[1989.97,0.141],[1989.99,0.102],[1990.00,0.131],[1990.01,0.147],[1990.03,0.126],[1990.04,0.158],[1990.06,0.139],[1990.07,0.115],[1990.09,0.144],[1990.10,0.172],[1990.12,0.128],[1990.13,0.108],[1990.15,0.136],[1990.16,0.154],[1990.18,0.121],[1990.19,0.146],[1990.20,0.113],[1990.21,0.089],
  [1990.86,0.149],[1990.87,0.126],[1990.88,0.138],[1990.89,0.112],[1990.90,0.161],[1990.91,0.131],[1990.92,0.119],[1990.93,0.146],[1990.94,0.104],[1990.95,0.135],[1990.96,0.158],[1990.97,0.123],[1990.98,0.142],[1990.99,0.097],[1991.00,0.129],[1991.01,0.151],[1991.02,0.116],[1991.03,0.138],[1991.04,0.091],[1991.05,0.144],[1991.06,0.127],[1991.07,0.162],[1991.08,0.119],[1991.09,0.136],[1991.10,0.108],[1991.11,0.148],[1991.12,0.131],[1991.13,0.121],[1991.14,0.156],[1991.15,0.139],[1991.16,0.112],[1991.18,0.145],[1991.20,0.128],[1991.22,0.101],[1991.24,0.152],[1991.26,0.134],[1991.28,0.117],[1991.30,0.143],[1991.31,0.125],[1991.01,0.082],[1991.05,0.086],
  [1991.85,0.186],[1991.86,0.145],[1991.88,0.138],[1991.90,0.141],[1991.93,0.132],[1991.95,0.156],[1991.96,0.121],[1991.97,0.143],[1991.98,0.112],[1991.99,0.135],[1992.00,0.098],[1992.01,0.149],[1992.02,0.126],[1992.03,0.114],[1992.04,0.138],[1992.05,0.162],[1992.06,0.104],[1992.08,0.131],[1992.10,0.145],[1992.12,0.118],[1992.14,0.139],[1992.17,0.158],[1992.19,0.124],[1992.20,0.107],[1992.22,0.147],[1992.24,0.132],[1992.26,0.119],[1992.28,0.158],[1992.29,0.136],[1992.30,0.112],[1992.31,0.141],[1992.32,0.082],[1992.27,0.104],
];

const SERIES = [HD76572, HD190007, HD159181, HD72779];
const TITLES = ["HD  76572  (F3V)", "HD  190007  (K4V)", "HD  159181  (G2Ib\u2212IIa)", "HD  72779  (G0III)"];

// axis ranges and tick labels
const X_MIN = [1980, 1980, 1982, 1982];
const X_MAX = [1993, 1993, 1993, 1993];
const X_LABELS = [
  [1980, 1982, 1984, 1986, 1988, 1990, 1992],
  [1980, 1982, 1984, 1986, 1988, 1990, 1992],
  [1982, 1984, 1986, 1988, 1990, 1992],
  [1982, 1984, 1986, 1988, 1990, 1992],
];
const Y_MIN = [-0.1, 0.3, 0.0, 0.0];
const Y_MAX = [0.25, 0.9, 0.4, 0.3];
const Y_LABELS = [
  [-0.1, 0.0, 0.1, 0.2],
  [0.4, 0.6, 0.8],
  [0.0, 0.1, 0.2, 0.3, 0.4],
  [0.0, 0.1, 0.2, 0.3],
];
const Y_MAJOR = [0.1, 0.2, 0.1, 0.1];
const Y_MINOR = [0.02, 0.05, 0.02, 0.02];
const X_MAJOR = 2;
const X_MINOR = 0.5;

// ---------------- layout ----------------
const PANEL_TOP = [4, 264, 526, 785];
const PANEL_BOTTOM = [203, 463, 726, 986];
const AXIS_LEFT = 113;
const CANVAS_W = 880;
const PLOT_RIGHT = 862;
const PAD_TOP = 30;
const X_AXIS_H = 40;
const FONT = "'DejaVu Serif', serif";
const INK = "#141414";

function fmtY(v: number): string {
  if (Math.abs(v) < 1e-9) return "0.0";
  const s = Math.abs(v).toFixed(2);
  return v < 0 ? "\u2212" + s : s;
}

const framePlugin = {
  id: "frameTicks",
  afterDraw(chart: any, _args: any, opts: any) {
    const { ctx, chartArea: a, scales } = chart;
    const xs = scales.x, ys = scales.y;
    ctx.save();
    ctx.strokeStyle = INK;
    ctx.lineWidth = 1.4;
    ctx.strokeRect(a.left, a.top, a.right - a.left, a.bottom - a.top);
    ctx.lineWidth = 1.2;
    ctx.beginPath();
    const nx = Math.round((xs.max - xs.min) / X_MINOR);
    for (let i = 1; i < nx; i++) {
      const v = xs.min + i * X_MINOR;
      const major = Math.abs(v / X_MAJOR - Math.round(v / X_MAJOR)) < 1e-6;
      const len = major ? 22 : 11;
      const px = Math.round(xs.getPixelForValue(v)) + 0.5;
      ctx.moveTo(px, a.bottom); ctx.lineTo(px, a.bottom - len);
      ctx.moveTo(px, a.top); ctx.lineTo(px, a.top + len);
    }
    const ny = Math.round((ys.max - ys.min) / opts.minor);
    for (let i = 1; i < ny + 1; i++) {
      const v = ys.min + i * opts.minor;
      if (v >= ys.max - 1e-9) break;
      const major = Math.abs(v / opts.major - Math.round(v / opts.major)) < 1e-6;
      const len = major ? 22 : 11;
      const py = Math.round(ys.getPixelForValue(v)) + 0.5;
      ctx.moveTo(a.left, py); ctx.lineTo(a.left + len, py);
      ctx.moveTo(a.right, py); ctx.lineTo(a.right - len, py);
    }
    ctx.stroke();
    ctx.fillStyle = INK;
    ctx.font = `23px ${FONT}`;
    ctx.textBaseline = "alphabetic";
    ctx.textAlign = "left";
    ctx.fillText(opts.title, a.left + 39, a.top + 38);
    ctx.restore();
  },
};

function Panel({ idx }: { idx: number }) {
  const ref = useRef<HTMLCanvasElement | null>(null);
  const plotH = PANEL_BOTTOM[idx] - PANEL_TOP[idx];
  const h = PAD_TOP + plotH + X_AXIS_H;
  const top = PANEL_TOP[idx] - PAD_TOP;

  useEffect(() => {
    const canvas = ref.current;
    if (!canvas) return;
    const chart = new Chart(canvas, {
      type: "scatter",
      data: {
        datasets: [
          {
            data: SERIES[idx].map(([x, y]) => ({ x, y })),
            pointRadius: 1.5,
            pointHoverRadius: 1.5,
            pointBorderWidth: 0,
            pointBackgroundColor: "#000",
            showLine: false,
          },
        ],
      },
      options: {
        responsive: false,
        animation: false,
        events: [],
        devicePixelRatio: 1,
        layout: { padding: { top: PAD_TOP, right: CANVAS_W - PLOT_RIGHT, bottom: 0, left: 0 } },
        plugins: {
          legend: { display: false },
          tooltip: { enabled: false },
          title: { display: false },
          frameTicks: { title: TITLES[idx], major: Y_MAJOR[idx], minor: Y_MINOR[idx] },
        } as any,
        scales: {
          x: {
            type: "linear",
            min: X_MIN[idx],
            max: X_MAX[idx],
            grid: { display: false, drawTicks: false },
            border: { display: false },
            afterBuildTicks: (s: any) => { s.ticks = X_LABELS[idx].map((v) => ({ value: v })); },
            afterFit: (s: any) => { s.height = X_AXIS_H; },
            ticks: {
              autoSkip: false,
              maxRotation: 0,
              minRotation: 0,
              padding: 9,
              color: INK,
              font: { family: FONT, size: 20 },
              callback: (v: any) => String(v),
            },
          },
          y: {
            type: "linear",
            min: Y_MIN[idx],
            max: Y_MAX[idx],
            grid: { display: false, drawTicks: false },
            border: { display: false },
            afterBuildTicks: (s: any) => { s.ticks = Y_LABELS[idx].map((v) => ({ value: v })); },
            afterFit: (s: any) => { s.width = AXIS_LEFT; },
            ticks: {
              autoSkip: false,
              padding: 13,
              color: INK,
              font: { family: FONT, size: 20 },
              callback: (v: any) => fmtY(Number(v)),
            },
          },
        },
      },
      plugins: [framePlugin],
    } as any);
    return () => chart.destroy();
  }, [idx]);

  return (
    <canvas
      ref={ref}
      width={CANVAS_W}
      height={h}
      style={{ position: "absolute", left: 0, top, width: CANVAS_W, height: h, display: "block" }}
    />
  );
}

export default function App() {
  return (
    <div
      style={{
        position: "fixed",
        left: 0,
        top: 0,
        width: 854,
        height: 1069,
        overflow: "hidden",
        background: "#fff",
      }}
    >
      {[0, 1, 2, 3].map((i) => (
        <Panel key={i} idx={i} />
      ))}
      <div
        style={{
          position: "absolute",
          left: 26,
          top: 477,
          transform: "translate(-50%, -50%) rotate(-90deg)",
          font: `27px ${FONT}`,
          lineHeight: "27px",
          whiteSpace: "nowrap",
          color: INK,
        }}
      >
        C<span style={{ fontSize: 14, position: "relative", top: 5 }}>RV</span> index
      </div>
      <div
        style={{
          position: "absolute",
          left: 509,
          top: 1042,
          transform: "translateX(-50%)",
          font: `26px ${FONT}`,
          lineHeight: "26px",
          whiteSpace: "nowrap",
          color: INK,
        }}
      >
        Year
      </div>
    </div>
  );
}
